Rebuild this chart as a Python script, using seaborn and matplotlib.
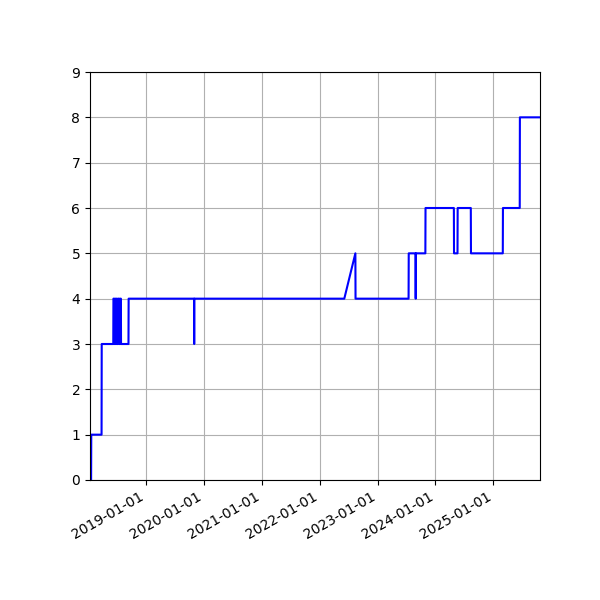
import matplotlib
matplotlib.use("Agg")
import matplotlib.pyplot as plt
import matplotlib.dates as mdates
import pandas as pd
import seaborn as sns

dates = [
    "2018-01-11", "2018-01-18", "2018-01-19", "2018-03-25", "2018-03-26",
    "2018-06-07", "2018-06-08", "2018-06-14", "2018-06-15",
    "2018-06-20", "2018-06-21", "2018-06-28", "2018-06-29",
    "2018-07-05", "2018-07-06", "2018-07-14", "2018-07-15",
    "2018-07-20", "2018-07-21", "2018-07-25", "2018-07-26",
    "2018-09-11", "2018-09-12", "2019-10-30", "2019-10-31",
    "2019-11-01", "2022-06-05", "2022-08-14", "2022-08-15",
    "2023-07-16", "2023-07-17", "2023-08-29", "2023-08-30",
    "2023-08-31", "2023-10-30", "2023-10-31", "2024-04-27",
    "2024-04-28", "2024-05-20", "2024-05-21", "2024-08-12",
    "2024-08-13", "2025-03-02", "2025-03-03", "2025-06-17",
    "2025-06-18", "2025-10-23",
]
values = [
    0, 0, 1, 1, 3,
    3, 4, 4, 3,
    3, 4, 4, 3,
    3, 4, 4, 3,
    3, 4, 4, 3,
    3, 4, 4, 3,
    4, 4, 5, 4,
    4, 5, 5, 4,
    5, 5, 6, 6,
    5, 5, 6, 6,
    5, 5, 6, 6,
    8, 8,
]

df = pd.DataFrame({"date": pd.to_datetime(dates), "value": values})

fig, ax = plt.subplots(figsize=(6, 6), dpi=100)
sns.lineplot(data=df, x="date", y="value", sort=False, estimator=None,
             color="blue", linewidth=1.5, ax=ax)
ax.set_xlim(df["date"].min(), df["date"].max())
ax.set_ylim(0, 9)
ax.set_xlabel("")
ax.set_ylabel("")
ax.grid(True, color="#b0b0b0", linewidth=0.8)
ax.set_axisbelow(True)
ax.xaxis.set_major_locator(mdates.YearLocator())
ax.xaxis.set_major_formatter(mdates.DateFormatter("%Y-%m-%d"))
for lab in ax.get_xticklabels():
    lab.set_rotation(30)
    lab.set_horizontalalignment("right")
fig.subplots_adjust(left=0.15, right=0.9, bottom=0.2, top=0.88)
fig.savefig("out.png", dpi=100)
